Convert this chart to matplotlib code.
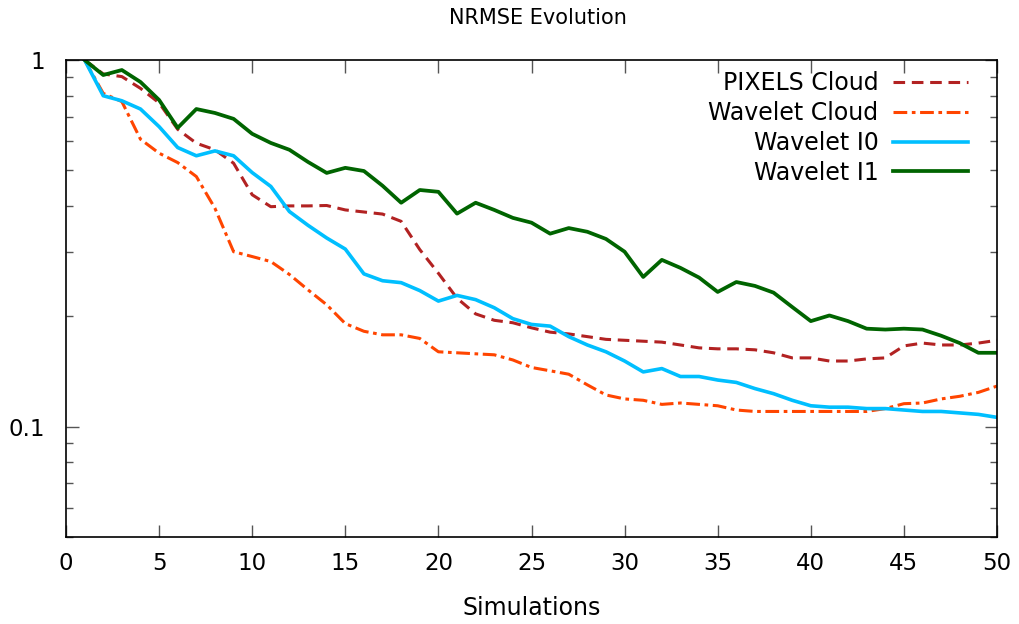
import matplotlib
matplotlib.use("Agg")
import matplotlib.pyplot as plt
from matplotlib.ticker import FixedLocator, NullFormatter, FixedFormatter

sims = list(range(1, 51))

pixels_cloud = [1.0, 0.916, 0.901, 0.837, 0.764, 0.647, 0.593, 0.569, 0.523, 0.429,
                0.398, 0.400, 0.400, 0.401, 0.390, 0.385, 0.380, 0.363, 0.304, 0.262,
                0.224, 0.203, 0.195, 0.192, 0.186, 0.181, 0.179, 0.176, 0.173, 0.172,
                0.171, 0.170, 0.167, 0.164, 0.163, 0.163, 0.162, 0.159, 0.154, 0.154,
                0.151, 0.151, 0.153, 0.154, 0.166, 0.169, 0.167, 0.167, 0.169, 0.172]

wavelet_cloud = [1.0, 0.811, 0.770, 0.608, 0.557, 0.525, 0.481, 0.394, 0.300, 0.291,
                 0.282, 0.260, 0.236, 0.215, 0.191, 0.182, 0.178, 0.178, 0.174, 0.160,
                 0.159, 0.158, 0.157, 0.152, 0.145, 0.142, 0.139, 0.130, 0.122, 0.119,
                 0.118, 0.115, 0.116, 0.115, 0.114, 0.111, 0.110, 0.110, 0.110, 0.110,
                 0.110, 0.110, 0.110, 0.112, 0.1155, 0.116, 0.119, 0.121, 0.124, 0.129]

wavelet_i0 = [1.0, 0.799, 0.774, 0.735, 0.658, 0.577, 0.548, 0.565, 0.548, 0.493,
              0.452, 0.386, 0.354, 0.327, 0.305, 0.261, 0.250, 0.247, 0.235, 0.220,
              0.228, 0.222, 0.211, 0.197, 0.190, 0.188, 0.176, 0.167, 0.160, 0.151,
              0.141, 0.144, 0.137, 0.137, 0.134, 0.132, 0.127, 0.123, 0.118, 0.114,
              0.113, 0.113, 0.112, 0.112, 0.111, 0.110, 0.110, 0.109, 0.108, 0.106]

wavelet_i1 = [1.0, 0.910, 0.939, 0.871, 0.778, 0.653, 0.735, 0.717, 0.691, 0.629,
              0.594, 0.569, 0.527, 0.492, 0.508, 0.498, 0.454, 0.408, 0.442, 0.437,
              0.381, 0.408, 0.390, 0.371, 0.360, 0.336, 0.348, 0.340, 0.325, 0.300,
              0.256, 0.285, 0.271, 0.255, 0.233, 0.248, 0.242, 0.232, 0.212, 0.194,
              0.201, 0.194, 0.185, 0.184, 0.185, 0.184, 0.177, 0.169, 0.159, 0.159]

labels = ["PIXELS Cloud", "Wavelet Cloud", "Wavelet I0", "Wavelet I1"]
colors = ["#B22222", "#FF4500", "#00BFFF", "#006400"]
xticks = list(range(0, 51, 5))
yticks = [0.1, 1.0]
ytick_labels = ["0.1", "1"]
yminor = [0.05, 0.06, 0.07, 0.08, 0.09, 0.2, 0.3, 0.4, 0.5, 0.6, 0.7, 0.8, 0.9]

W, H = 1019, 624
fig = plt.figure(figsize=(W / 100, H / 100), dpi=100)
ax = fig.add_axes([66 / W, 1 - 537 / H, (997 - 66) / W, (537 - 60) / H])

ax.plot(sims, pixels_cloud, color=colors[0], lw=2.2, dashes=(3.8, 2.2), label=labels[0])
ax.plot(sims, wavelet_cloud, color=colors[1], lw=2.2, dashes=(4.5, 1.5, 1.2, 1.5), label=labels[1])
ax.plot(sims, wavelet_i0, color=colors[2], lw=2.6, label=labels[2])
ax.plot(sims, wavelet_i1, color=colors[3], lw=2.7, label=labels[3])

ax.set_yscale("log")
ax.set_xlim(0, 50)
ax.set_ylim(0.05, 1.0)

ax.xaxis.set_major_locator(FixedLocator(xticks))
ax.yaxis.set_major_locator(FixedLocator(yticks))
ax.yaxis.set_major_formatter(FixedFormatter(ytick_labels))
ax.yaxis.set_minor_locator(FixedLocator(yminor))
ax.yaxis.set_minor_formatter(NullFormatter())

ax.tick_params(axis="both", which="major", direction="in", length=9, width=1,
               top=True, right=True, labelsize=16.5, color="#555555")
ax.tick_params(axis="x", which="major", pad=11)
ax.tick_params(axis="y", which="major", pad=15)
ax.tick_params(axis="both", which="minor", direction="in", length=5, width=1,
               top=True, right=True, color="#555555")
for s in ax.spines.values():
    s.set_linewidth(1.2)

ax.set_title("NRMSE Evolution", fontsize=15, pad=26, x=0.507)
ax.set_xlabel("Simulations", fontsize=17, labelpad=15)

leg = ax.legend(loc="upper right", frameon=False, markerfirst=False, fontsize=17,
                handlelength=3.2, handletextpad=0.6, labelspacing=0.25,
                bbox_to_anchor=(0.969, 0.977), borderaxespad=0, borderpad=0)
for t in leg.get_texts():
    t.set_ha("right")
leg._legend_box.align = "right"

fig.savefig("out.png", dpi=100)
